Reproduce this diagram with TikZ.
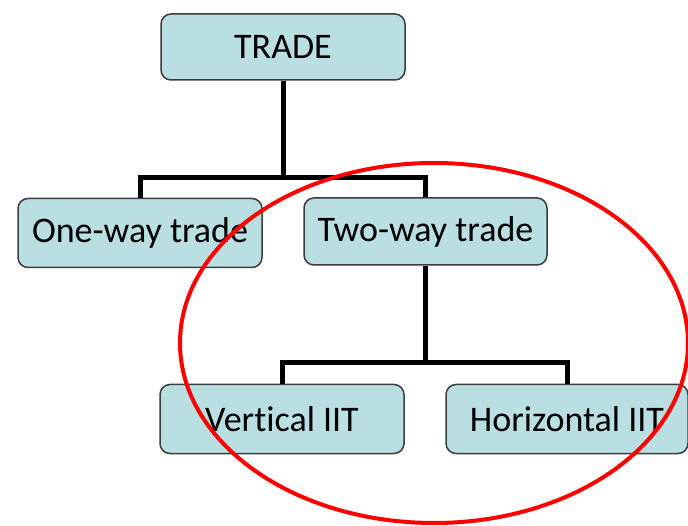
\documentclass[tikz,border=0pt]{standalone}
\usepackage{fontspec}
\setmainfont{Carlito}[Ligatures=NoCommon]
\definecolor{boxfill}{HTML}{B9DFE2}
\definecolor{boxline}{HTML}{3C3C3C}
\begin{document}
\begin{tikzpicture}[x=1pt,y=-1pt,
  box/.style={draw=boxline,fill=boxfill,line width=1.5pt,rounded corners=10pt,
    minimum width=244pt,minimum height=69pt,inner sep=0pt,
    font=\fontsize{36}{42}\selectfont},
  conn/.style={line width=5pt,black,line join=miter},
  ring/.style={draw=red,line width=4pt}]
\useasboundingbox (0,0) rectangle (688,526);
\node[box,minimum height=66pt] (trade) at (283,47) {TRADE};
\node[box] (one) at (140,233) {One-way trade};
\node[box,minimum width=243pt,minimum height=67pt] (two) at (425.5,231.5) {Two-way trade};
\node[box] (vert) at (282,419) {Vertical IIT};
\node[box,minimum width=242pt] (horiz) at (567,419) {Horizontal IIT};
\coordinate (bus1) at (283,178);
\coordinate (bus2) at (425.5,363);
\draw[conn] (trade.south) -- (bus1);
\draw[conn] (one.north) |- (bus1) -| (two.north);
\draw[conn] (two.south) -- (bus2);
\draw[conn] (vert.north) |- (bus2) -| (horiz.north);
\draw[ring] (434,343) ellipse [x radius=254pt, y radius=180pt];
\end{tikzpicture}
\end{document}
